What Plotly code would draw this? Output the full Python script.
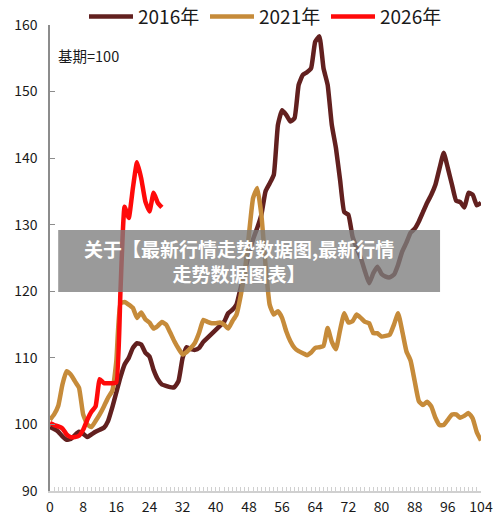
import plotly.graph_objects as go

weeks_2016 = list(range(0, 105))
vals_2016 = [99.6, 99.3, 98.9, 98.2, 97.7, 97.8, 98.4, 98.9, 98.6, 98.1,
             98.5, 98.9, 99.2, 99.5, 100.5, 102.5, 104.8, 107.1, 109.0, 110.0,
             111.5, 112.2, 112.0, 110.8, 110.2, 108.2, 106.8, 106.0, 105.8, 105.6,
             105.6, 106.5, 110.0, 111.6, 111.3, 111.2, 111.5, 112.4, 113.0, 113.6,
             114.2, 114.8, 115.4, 116.7, 117.2, 118.0, 120.5, 123.0, 125.6, 127.8,
             129.5, 131.5, 135.0, 136.2, 137.5, 145.0, 147.2, 146.5, 145.5, 146.0,
             151.0, 152.5, 152.9, 153.5, 157.5, 158.3, 153.5, 151.0, 145.0, 141.5,
             136.7, 131.9, 131.5, 128.2, 126.5, 125.0, 123.0, 121.2, 122.7, 123.7,
             122.6, 122.2, 122.1, 122.5, 124.0, 126.0, 127.3, 128.8, 129.4, 130.5,
             131.9, 133.3, 134.5, 136.0, 138.5, 140.8, 138.5, 136.0, 133.6, 133.4,
             132.6, 134.8, 134.5, 132.9, 133.3]

weeks_2021 = list(range(0, 105))
vals_2021 = [100.7, 101.5, 102.8, 106.0, 108.0, 107.5, 106.5, 105.5, 101.5, 100.0,
             99.6, 100.5, 101.5, 102.7, 104.0, 105.0, 109.5, 118.2, 118.4, 118.0,
             117.5, 116.0, 116.8, 115.8, 115.3, 114.4, 114.8, 115.4, 115.0, 113.8,
             112.5, 111.4, 110.5, 110.9, 111.5, 112.3, 113.8, 115.7, 115.4, 115.2,
             115.2, 115.3, 115.0, 114.4, 115.5, 116.5, 119.3, 123.0, 128.5, 134.0,
             135.5, 131.5, 124.0, 118.0, 116.5, 117.0, 116.0, 114.0, 112.5, 111.5,
             111.0, 110.7, 110.4, 110.8, 111.5, 111.6, 111.8, 114.5, 112.4, 111.3,
             114.2, 116.7, 115.3, 115.5, 116.5, 116.0, 115.4, 115.2, 113.7, 113.7,
             113.2, 113.3, 113.5, 115.0, 116.7, 114.0, 111.0, 109.6, 106.5, 103.5,
             102.9, 103.4, 102.7, 101.0, 99.9, 99.9, 100.7, 101.5, 101.5, 101.0,
             101.3, 101.7, 100.9, 98.8, 97.6]

weeks_2026 = list(range(0, 28))
vals_2026 = [100.2, 99.9, 99.7, 99.4, 98.5, 98.1, 98.1, 98.3, 99.2, 100.7,
             101.9, 102.7, 106.8, 106.2, 106.2, 106.2, 106.3, 120.0, 132.7, 131.0,
             135.5, 139.4, 137.0, 133.5, 132.0, 134.8, 133.3, 132.6]

series_names = ["2016年", "2021年", "2026年"]
series_colors = ["#62201F", "#C68B3A", "#FF0A0A"]

x_ticks = list(range(0, 105, 8))
y_ticks = list(range(90, 161, 10))

title_text = "<b>关于【最新行情走势数据图,最新行情<br>走势数据图表】</b>"
note_text = "基期=100"

fig = go.Figure()
for name, xs, ys, col in zip(series_names,
                             [weeks_2016, weeks_2021, weeks_2026],
                             [vals_2016, vals_2021, vals_2026],
                             series_colors):
    fig.add_trace(go.Scatter(x=xs, y=ys, mode="lines", name=name,
                             line=dict(color=col, width=4.5, shape="spline", smoothing=0.4)))

fig.update_layout(
    width=500, height=523,
    margin=dict(l=50, r=19, t=25, b=32, autoexpand=False),
    paper_bgcolor="white", plot_bgcolor="white",
    font=dict(family="Noto Sans CJK SC, Noto Sans, sans-serif", color="#1a1a1a"),
    showlegend=True,
    legend=dict(orientation="h", x=0.5, xanchor="center", y=1.018, yanchor="middle",
                font=dict(size=19, color="#1a1a1a"), bgcolor="rgba(0,0,0,0)",
                itemwidth=44, entrywidth=62, entrywidthmode="pixels", tracegroupgap=0),
    xaxis=dict(range=[0, 104], tickvals=x_ticks, ticktext=[str(v) for v in x_ticks],
               showgrid=False, zeroline=False, showline=True, linecolor="#D0D0D0", linewidth=1.5,
               ticks="inside", ticklen=4, tickcolor="#D0D0D0", tickwidth=1,
               minor=dict(dtick=1, ticks="inside", ticklen=4, tickcolor="#D0D0D0", tickwidth=1),
               tickfont=dict(size=14, color="#1a1a1a"), ticklabelstandoff=2),
    yaxis=dict(range=[90, 160], tickvals=y_ticks, ticktext=[str(v) for v in y_ticks],
               showgrid=False, zeroline=False, showline=True, linecolor="#8C8C8C", linewidth=1.5,
               ticks="inside", ticklen=5, tickcolor="#8C8C8C", tickwidth=1,
               tickfont=dict(size=14, color="#1a1a1a"), ticklabelstandoff=8),
)

fig.add_annotation(text=note_text, xref="paper", yref="paper", x=0.015, y=0.935,
                   xanchor="left", yanchor="middle", showarrow=False,
                   font=dict(size=14.5, color="#1a1a1a"))

fig.add_shape(type="rect", xref="paper", yref="paper", x0=0.019, x1=0.905, y0=0.427, y1=0.560,
              fillcolor="rgba(125,125,125,0.78)", line=dict(width=0), layer="above")
fig.add_annotation(text=title_text, xref="paper", yref="paper", x=0.438, y=0.4935,
                   xanchor="center", yanchor="middle", showarrow=False, align="center",
                   font=dict(size=19, color="white", family="Noto Sans CJK SC"),
                   )

fig.write_html("out.html")
